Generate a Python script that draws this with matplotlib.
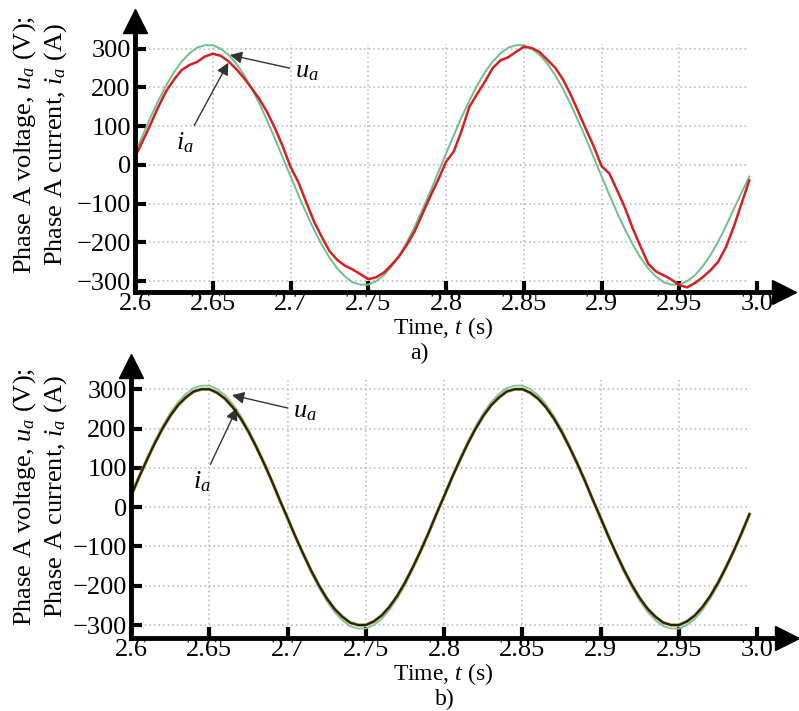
import numpy as np
import matplotlib
matplotlib.use("Agg")
import matplotlib.pyplot as plt

plt.rcParams['font.family'] = ['Liberation Serif', 'DejaVu Serif']
plt.rcParams['mathtext.fontset'] = 'custom'
plt.rcParams['mathtext.rm'] = 'Liberation Serif'
plt.rcParams['mathtext.it'] = 'Liberation Serif:italic'

# time samples (s)
t = np.round(np.arange(2.6, 2.9951, 0.005), 3)

# a) voltage u_a (V)
u_a_top = [29, 77, 123, 166, 205, 239, 267, 288, 303, 309, 309, 300, 285, 262, 233, 198, 158, 114, 68, 19,
           -29, -77, -123, -166, -205, -239, -267, -288, -303, -309, -309, -300, -285, -262, -233, -198, -158, -114, -68, -19,
           29, 77, 123, 166, 205, 239, 267, 288, 303, 309, 309, 300, 285, 262, 233, 198, 158, 114, 68, 19,
           -29, -77, -123, -166, -205, -239, -267, -288, -303, -309, -309, -300, -285, -262, -233, -198, -158, -114, -72, -30]
# a) current i_a (A)
i_a_top = [20, 62, 105, 150, 190, 220, 245, 258, 266, 280, 287, 282, 268, 248, 225, 198, 170, 136, 95, 48,
           -5, -44, -95, -145, -185, -222, -245, -260, -270, -282, -295, -290, -278, -258, -235, -205, -170, -125, -80, -38,
           8, 35, 88, 150, 183, 215, 250, 270, 278, 292, 305, 302, 292, 272, 252, 222, 183, 138, 92, 48,
           -3, -22, -65, -110, -163, -210, -255, -275, -285, -296, -310, -316, -305, -290, -272, -250, -212, -160, -100, -40]

# b) voltage and current
u_a_bot = [29, 77, 123, 166, 205, 239, 267, 288, 303, 309, 309, 300, 285, 262, 233, 198, 158, 114, 68, 19,
           -29, -77, -123, -166, -205, -239, -267, -288, -303, -309, -309, -300, -285, -262, -233, -198, -158, -114, -68, -19,
           29, 77, 123, 166, 205, 239, 267, 288, 303, 309, 309, 300, 285, 262, 233, 198, 158, 114, 68, 19,
           -29, -77, -123, -166, -205, -239, -267, -288, -303, -309, -309, -300, -285, -262, -233, -198, -158, -114, -68, -19]
i_a_bot = [28, 75, 119, 161, 199, 232, 259, 279, 294, 300, 300, 291, 276, 254, 226, 192, 153, 111, 66, 18,
           -28, -75, -119, -161, -199, -232, -259, -279, -294, -300, -300, -291, -276, -254, -226, -192, -153, -111, -66, -18,
           28, 75, 119, 161, 199, 232, 259, 279, 294, 300, 300, 291, 276, 254, 226, 192, 153, 111, 66, 18,
           -28, -75, -119, -161, -199, -232, -259, -279, -294, -300, -300, -291, -276, -254, -226, -192, -153, -111, -66, -18]

xticks = [2.6, 2.65, 2.7, 2.75, 2.8, 2.85, 2.9, 2.95, 3.0]
xticklabels = ['2.6', '2.65', '2.7', '2.75', '2.8', '2.85', '2.9', '2.95', '3.0']
yticks = [-300, -200, -100, 0, 100, 200, 300]

fig = plt.figure(figsize=(7.99, 7.11), dpi=100)
ax1 = fig.add_axes([135/799, 1-292/711, 660/799, 282/711])
ax2 = fig.add_axes([131/799, 1-638/711, 667/799, 283/711])


def style(ax, xmax, ymin, ymax, vtop):
    ax.set_xlim(2.6, xmax)
    ax.set_ylim(ymin, ymax)
    for s in ax.spines.values():
        s.set_visible(False)
    # dotted grid
    ax.hlines(yticks, 2.6, 2.995, colors='#b5b5b5', linestyles=(0, (1, 2)), lw=1.1, zorder=0)
    ax.vlines(xticks[1:-1], ymin, vtop, colors='#b5b5b5', linestyles=(0, (1, 2)), lw=1.1, zorder=0)
    # axes with arrows
    ax.plot([0, 0], [0, 0.97], transform=ax.transAxes, color='k', lw=3.5, clip_on=False, zorder=5)
    ax.plot([0, 0.985], [0, 0], transform=ax.transAxes, color='k', lw=3.5, clip_on=False, zorder=5)
    ax.plot(0, 0.96, marker='^', ms=17, color='k', transform=ax.transAxes, clip_on=False, zorder=6)
    ax.plot(0.984, 0, marker='>', ms=17, color='k', transform=ax.transAxes, clip_on=False, zorder=6)
    ax.set_xticks(xticks)
    ax.set_xticklabels(xticklabels)
    ax.set_yticks(yticks)
    ax.tick_params(direction='in', length=8, width=3, labelsize=19, pad=3, color='k')
    ax.tick_params(axis='x', pad=1)


style(ax1, 3.0244, -328, 400, 312)
style(ax2, 3.026, -333, 387, 323)

# a)
ax1.plot(t, u_a_top, color='#6fbf8a', lw=1.4, zorder=2)
ax1.plot(t, i_a_top, color='#d42024', lw=1.8, zorder=3)
ax1.annotate('$u_a$', xy=(2.661, 284), xytext=(2.703, 240), fontsize=19, va='center', ha='left',
             arrowprops=dict(arrowstyle='-|>', color='#333333', lw=1, mutation_scale=18, shrinkA=2, shrinkB=0))
ax1.annotate('$i_a$', xy=(2.66, 264), xytext=(2.632, 57), fontsize=19, va='center', ha='center',
             arrowprops=dict(arrowstyle='-|>', color='#333333', lw=1, mutation_scale=18, shrinkA=2, shrinkB=0))

# b)
ax2.plot(t, u_a_bot, color='#7fc595', lw=1.3, zorder=2)
ax2.plot(t, i_a_bot, color='#b8a848', lw=2.4, zorder=3)
ax2.plot(t, i_a_bot, color='#2a2212', lw=1.6, zorder=4)
ax2.annotate('$u_a$', xy=(2.6645, 285), xytext=(2.7035, 242), fontsize=19, va='center', ha='left',
             arrowprops=dict(arrowstyle='-|>', color='#333333', lw=1, mutation_scale=18, shrinkA=2, shrinkB=0))
ax2.annotate('$i_a$', xy=(2.6677, 252), xytext=(2.6454, 64), fontsize=19, va='center', ha='center',
             arrowprops=dict(arrowstyle='-|>', color='#333333', lw=1, mutation_scale=18, shrinkA=2, shrinkB=0))

# labels
for yc in [145, 497]:
    fig.text(25/799, 1-yc/711, 'Phase A voltage, $u_a$ (V);', rotation=90, ha='center', va='center', fontsize=19)
    fig.text(56/799, 1-yc/711, 'Phase A current, $i_a$ (A)', rotation=90, ha='center', va='center', fontsize=19)
fig.text(443/799, 1-328/711, 'Time, $t$ (s)', ha='center', va='center', fontsize=17)
fig.text(419/799, 1-353/711, 'a)', ha='center', va='center', fontsize=17)
fig.text(443/799, 1-674/711, 'Time, $t$ (s)', ha='center', va='center', fontsize=17)
fig.text(445/799, 1-699/711, 'b)', ha='center', va='center', fontsize=17)

fig.savefig('out.png', dpi=100)
